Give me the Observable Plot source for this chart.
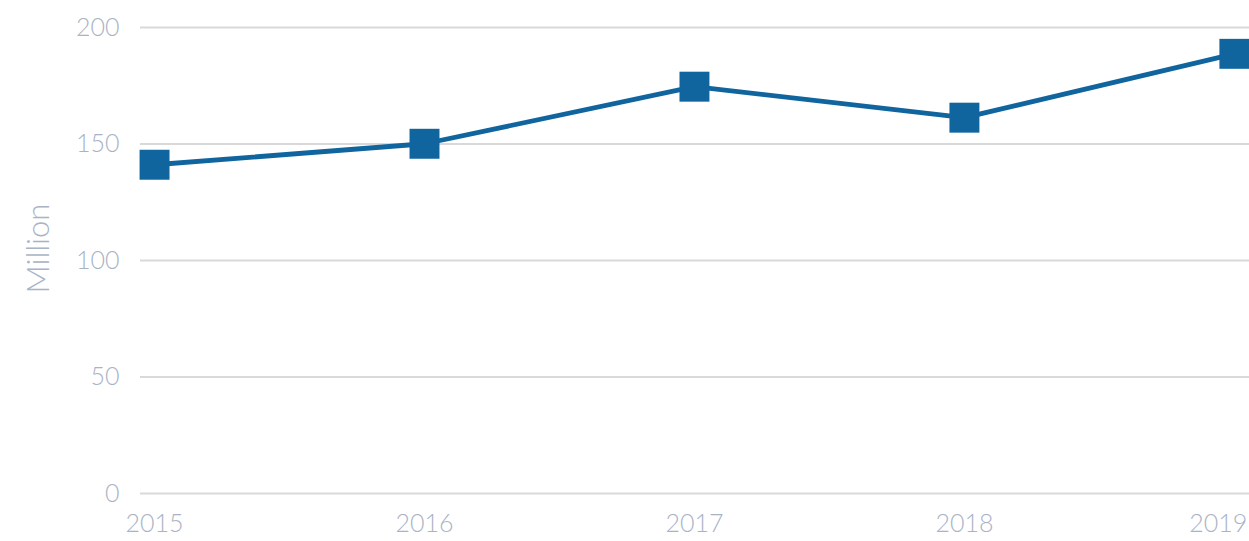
<!DOCTYPE html>
<html>
<head>
<meta charset="utf-8">
<script src="https://cdn.jsdelivr.net/npm/d3@7"></script>
<script src="https://cdn.jsdelivr.net/npm/@observablehq/plot@0.6"></script>
<style>
  html, body { margin: 0; padding: 0; background: #fff; }
  #chart { width: 1249px; height: 541px; overflow: hidden; }
</style>
</head>
<body>
<div id="chart"></div>
<script>
const years = [2015, 2016, 2017, 2018, 2019];
const values = [141.1, 150.1, 174.6, 161.3, 188.7];
const yTicks = [0, 50, 100, 150, 200];
const yLabel = "Million";

const data = years.map((year, i) => ({year, value: values[i]}));
const textColor = "#a9b3c6";
const lineColor = "#10659e";
const font = "Lato, 'Open Sans', sans-serif";

const chart = Plot.plot({
  width: 1249,
  height: 541,
  marginTop: 27,
  marginBottom: 48,
  marginLeft: 140,
  marginRight: 0,
  style: {fontFamily: font, fontWeight: 300, background: "#fff", overflow: "visible"},
  x: {domain: [2014.948, 2019.056], axis: null},
  y: {domain: [0, 200], axis: null},
  marks: [
    Plot.ruleY(yTicks, {stroke: "#d9d9d9", strokeWidth: 2.2}),
    Plot.text(yTicks, {y: d => d, frameAnchor: "left", text: d => String(d), textAnchor: "end", dx: -21, fill: textColor, fontSize: 25, fontWeight: 300}),
    Plot.text(data.filter(d => d.year !== 2019), {x: "year", y: () => 0, text: d => String(d.year), dy: 30, fill: textColor, fontSize: 25, fontWeight: 300}),
    Plot.text(data.filter(d => d.year === 2019), {x: "year", y: () => 0, text: d => String(d.year), textAnchor: "end", dx: 13, dy: 30, fill: textColor, fontSize: 25, fontWeight: 300}),
    Plot.text([yLabel], {frameAnchor: "left", text: d => d, rotate: -90, textAnchor: "middle", dx: -101, dy: -12, fill: textColor, fontSize: 31, fontWeight: 300}),
    Plot.line(data, {x: "year", y: "value", stroke: lineColor, strokeWidth: 4.8}),
    Plot.dot(data, {x: "year", y: "value", symbol: "square", r: 16.9, fill: lineColor, stroke: "none"})
  ]
});
document.getElementById("chart").appendChild(chart);
</script>
</body>
</html>
